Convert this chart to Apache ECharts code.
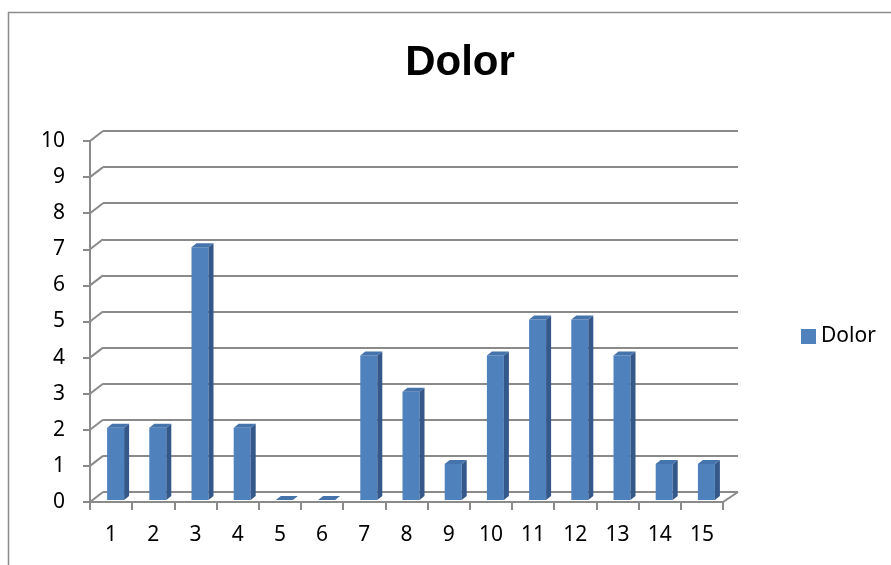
<!DOCTYPE html>
<html>
<head>
<meta charset="utf-8">
<script src="https://cdn.jsdelivr.net/npm/echarts@6/dist/echarts.min.js"></script>
<style>
  html, body { margin: 0; padding: 0; background: #fff; }
  #chart { width: 891px; height: 565px; }
</style>
</head>
<body>
<div id="chart"></div>
<script>
const categories = ["1", "2", "3", "4", "5", "6", "7", "8", "9", "10", "11", "12", "13", "14", "15"];
const dolor = [2, 2, 7, 2, 0, 0, 4, 3, 1, 4, 5, 5, 4, 1, 1];
const yTicks = [0, 1, 2, 3, 4, 5, 6, 7, 8, 9, 10];

const chart = echarts.init(document.getElementById("chart"));

const gridColor = "#8a8a8a";
const font = "'Noto Sans', 'Liberation Sans', sans-serif";
// 3d depth offset from front axis to back wall
const DX = 13, DY = -10;

function renderBar(params, api) {
  const idx = api.value(0);
  const base = api.coord([idx, 0]);
  const top = api.coord([idx, api.value(1)]);
  const x0 = base[0] - 4, x1 = x0 + 17;
  const yb = base[1] - 2, yt = top[1] - 2;
  const sx = 5, sy = -4;
  return {
    type: "group",
    children: [
      { type: "rect", shape: { x: x0, y: yt, width: x1 - x0, height: yb - yt }, style: { fill: "#4F81BD" } },
      { type: "polygon", shape: { points: [[x1, yt], [x1 + sx, yt + sy], [x1 + sx, yb + sy], [x1, yb]] }, style: { fill: "#34588A" } },
      { type: "polygon", shape: { points: [[x0, yt], [x0 + sx, yt + sy], [x1 + sx, yt + sy], [x1, yt]] }, style: { fill: "#4573AC" } }
    ]
  };
}

function renderConnector(params, api) {
  const p = api.coord([api.value(0), api.value(1)]);
  const bw = api.size([1, 0])[0];
  const side = api.value(2);
  const x = p[0] + side * bw / 2;
  return {
    type: "line",
    shape: { x1: x, y1: p[1], x2: x + DX + (side > 0 ? 2 : 0), y2: p[1] + DY },
    style: { stroke: gridColor, lineWidth: 2 }
  };
}

chart.setOption({
  animation: false,
  title: {
    text: "Dolor",
    left: 455,
    textAlign: "center",
    top: 37,
    textStyle: { fontFamily: "'Liberation Sans', sans-serif", fontWeight: "bold", fontSize: 42, color: "#000" }
  },
  legend: {
    data: [{ name: "Dolor", icon: "rect" }],
    left: 796,
    top: 321,
    itemWidth: 15,
    itemHeight: 15,
    itemGap: 5,
    textStyle: { fontFamily: font, fontSize: 21, color: "#000" }
  },
  graphic: [
    { type: "rect", left: 6, top: 10, shape: { width: 1000, height: 1000 }, style: { fill: "none", stroke: "#8c8c8c", lineWidth: 1.5 }, z: -10 }
  ],
  grid: [
    { left: 103, top: 131, width: 635, height: 361 },
    { left: 90, top: 141, width: 633, height: 361 }
  ],
  xAxis: [
    { type: "category", gridIndex: 0, data: categories, show: false },
    {
      type: "category", gridIndex: 1, data: categories,
      axisLine: { lineStyle: { color: gridColor, width: 2 } },
      axisTick: { show: true, length: 8, lineStyle: { color: gridColor, width: 2 } },
      axisLabel: { color: "#000", fontFamily: font, fontSize: 21, margin: 23 }
    }
  ],
  yAxis: [
    {
      type: "value", gridIndex: 0, min: 0, max: 10, interval: 1,
      axisLine: { show: false }, axisTick: { show: false }, axisLabel: { show: false },
      splitLine: { lineStyle: { color: gridColor, width: 2 } }
    },
    {
      type: "value", gridIndex: 1, min: 0, max: 10, interval: 1,
      axisLine: { show: true, lineStyle: { color: gridColor, width: 2 } },
      axisTick: { show: true, length: 7, lineStyle: { color: gridColor, width: 2 } },
      axisLabel: { color: "#000", fontFamily: font, fontSize: 21, margin: 25 },
      splitLine: { show: false }
    }
  ],
  series: [
    {
      type: "custom",
      name: "connectors",
      xAxisIndex: 1, yAxisIndex: 1,
      renderItem: renderConnector,
      data: yTicks.map(v => [0, v, -1]).concat([[categories.length - 1, 0, 1]]),
      silent: true,
      z: 1
    },
    {
      type: "custom",
      name: "Dolor",
      xAxisIndex: 1, yAxisIndex: 1,
      itemStyle: { color: "#4F81BD" },
      renderItem: renderBar,
      data: dolor.map((v, i) => [i, v]),
      z: 5
    }
  ]
});
</script>
</body>
</html>
